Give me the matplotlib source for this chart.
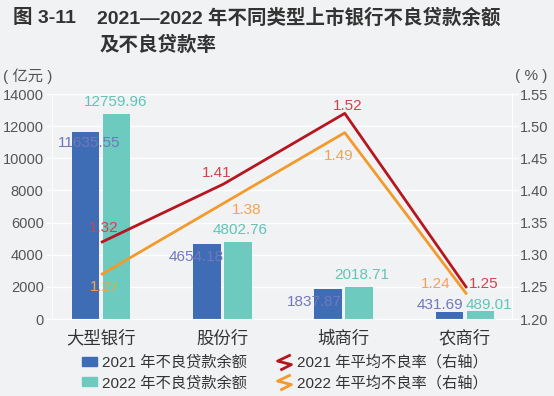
import matplotlib
matplotlib.use('Agg')
import matplotlib.pyplot as plt
from matplotlib.patches import Patch
from matplotlib.lines import Line2D
from matplotlib.path import Path
import numpy as np

plt.rcParams['font.family'] = ['Liberation Sans', 'Noto Sans CJK SC', 'DejaVu Sans']

categories = ['大型银行', '股份行', '城商行', '农商行']
npl_2021 = [11635.55, 4654.18, 1837.87, 431.69]
npl_2022 = [12759.96, 4802.76, 2018.71, 489.01]
rate_2021 = [1.32, 1.41, 1.52, 1.25]
rate_2022 = [1.27, 1.38, 1.49, 1.24]

# label offsets in pixels (dx, dy) - hand placed like the original
off_b21 = [(-12, -11), (-26, -13), (-29, -13), (-25, 7)]
off_b22 = [(15, 12), (18, 12), (18, 12), (24, 6)]
off_r21 = [(1, 14), (-7, 11), (3, 7), (18, 3)]
off_r22 = [(2, -13), (23, -7), (-6, -23), (-30, 9)]

bg = '#f1f2f4'
c21 = '#3e6db5'
c22 = '#6ccabe'
cl21 = '#b5161f'
cl22 = '#f39a2c'
t21 = '#7277bd'
t22 = '#63c3b8'
tl21 = '#d0434c'
tl22 = '#f5a24e'
grey = '#555555'

fig = plt.figure(figsize=(5.54, 3.96), dpi=100, facecolor=bg)
ax = fig.add_axes([0.0939, 0.1944, 0.830, 0.568], facecolor=bg)
ax2 = ax.twinx()

x = np.arange(len(categories))
w = 0.227
ax.bar(x - 0.128, npl_2021, w, color=c21, zorder=2)
ax.bar(x + 0.128, npl_2022, w, color=c22, zorder=2)
ax.set_xlim(-0.404, 3.388)
ax.set_ylim(0, 14000)
ax.set_yticks(range(0, 14001, 2000))
ax.set_xticks(x)
ax.set_xticklabels(categories, fontsize=12.5, color='#333333')
ax.grid(axis='y', color='white', lw=1, zorder=0)
ax.set_axisbelow(True)

lx = x + 0.01
ax2.plot(lx, rate_2021, color=cl21, lw=2, zorder=3)
ax2.plot(lx, rate_2022, color=cl22, lw=2, zorder=3)
ax2.set_ylim(1.20, 1.55)
ax2.set_yticks(np.arange(1.20, 1.551, 0.05))
ax2.set_yticklabels(['%.2f' % v for v in np.arange(1.20, 1.551, 0.05)])

for a in (ax, ax2):
    for s in a.spines.values():
        s.set_visible(False)
    a.tick_params(axis='y', colors=grey, labelsize=10.5, length=4.5, width=1, pad=1.5)
    a.tick_params(axis='y', color='white')
ax.tick_params(axis='x', length=0, pad=8)
ax.spines['bottom'].set_visible(True)
ax.spines['bottom'].set_color('white')
ax.spines['left'].set_visible(True)
ax.spines['left'].set_color('white')
ax2.spines['right'].set_visible(True)
ax2.spines['right'].set_color('white')

fs = 11
for i in range(len(categories)):
    ax.annotate('%.2f' % npl_2021[i], (x[i], npl_2021[i]), xytext=off_b21[i],
                textcoords='offset pixels', ha='center', va='center', color=t21, fontsize=fs, zorder=5)
    ax.annotate('%.2f' % npl_2022[i], (x[i], npl_2022[i]), xytext=off_b22[i],
                textcoords='offset pixels', ha='center', va='center', color=t22, fontsize=fs, zorder=5)
    ax2.annotate('%.2f' % rate_2021[i], (lx[i], rate_2021[i]), xytext=off_r21[i],
                 textcoords='offset pixels', ha='center', va='center', color=tl21, fontsize=fs, zorder=5)
    ax2.annotate('%.2f' % rate_2022[i], (lx[i], rate_2022[i]), xytext=off_r22[i],
                 textcoords='offset pixels', ha='center', va='center', color=tl22, fontsize=fs, zorder=5)

fig.text(0.006, 0.808, '( 亿元 )', fontsize=11, color=grey, ha='left', va='center')
fig.text(0.93, 0.808, '( % )', fontsize=11, color=grey, ha='left', va='center')

fig.text(0.023, 0.955, '图 3-11', fontsize=14, fontweight='bold', color='#333333', va='center')
fig.text(0.175, 0.955, '2021—2022 年不同类型上市银行不良贷款余额', fontsize=14,
         fontweight='bold', color='#333333', va='center')
fig.text(0.18, 0.886, '及不良贷款率', fontsize=14, fontweight='bold', color='#333333', va='center')

zig = Path([(0.45, 0.55), (-0.5, 0.1), (0.5, -0.15), (-0.3, -0.55)],
           [Path.MOVETO, Path.LINETO, Path.LINETO, Path.LINETO])
handles = [
    Patch(color=c21, label='2021 年不良贷款余额'),
    Patch(color=c22, label='2022 年不良贷款余额'),
    Line2D([], [], color=cl21, marker=zig, linestyle='None', markersize=11,
           markerfacecolor='none', markeredgewidth=2, label='2021 年平均不良率（右轴）'),
    Line2D([], [], color=cl22, marker=zig, linestyle='None', markersize=11,
           markerfacecolor='none', markeredgewidth=2, label='2022 年平均不良率（右轴）'),
]
fig.legend(handles=handles, ncol=2, loc='center', bbox_to_anchor=(0.514, 0.059),
           frameon=False, fontsize=11, handlelength=1.0, handleheight=0.55,
           handletextpad=0.35, columnspacing=1.9, labelspacing=0.4, labelcolor='#333333')

fig.savefig('out.png', dpi=100, facecolor=bg)
